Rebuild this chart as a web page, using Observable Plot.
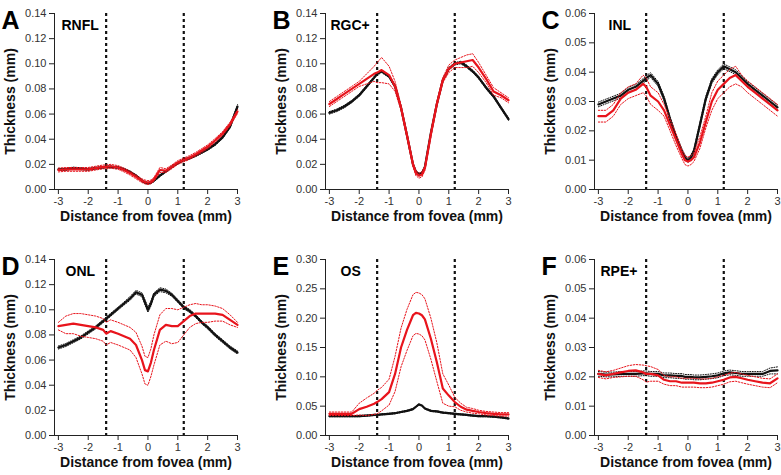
<!DOCTYPE html>
<html>
<head>
<meta charset="utf-8">
<script src="https://cdn.jsdelivr.net/npm/d3@7"></script>
<script src="https://cdn.jsdelivr.net/npm/@observablehq/plot@0.6"></script>
<style>
  html, body { margin: 0; padding: 0; background: #fff; }
  #chart { position: relative; width: 781px; height: 475px; overflow: hidden; font-family: "Liberation Sans", Arial, sans-serif; }
  #chart svg { position: absolute; }
</style>
</head>
<body>
<div id="chart"></div>
<script>
// ---- data (distance from fovea, mm) ----
const xs = [-3, -2.75, -2.5, -2.25, -2, -1.75, -1.5, -1.4, -1.25, -1, -0.8, -0.6, -0.4, -0.2, -0.1, 0, 0.1, 0.2, 0.4, 0.6, 0.8, 1, 1.2, 1.4, 1.6, 1.8, 2, 2.25, 2.5, 2.75, 3];
const xTicks = [-3, -2, -1, 0, 1, 2, 3];
const foveaLines = [-1.4, 1.2];
const ticks014 = [0, 0.02, 0.04, 0.06, 0.08, 0.10, 0.12, 0.14];
const ticks006 = [0, 0.01, 0.02, 0.03, 0.04, 0.05, 0.06];
const ticks030 = [0, 0.05, 0.10, 0.15, 0.20, 0.25, 0.30];
const panelLetters = ["A", "B", "C", "D", "E", "F"];
const layerNames = ["RNFL", "RGC+", "INL", "ONL", "OS", "RPE+"];

// RNFL
const blackA = [0.016, 0.016, 0.017, 0.0165, 0.016, 0.017, 0.0175, 0.018, 0.018, 0.0175, 0.016, 0.014, 0.011, 0.007, 0.0055, 0.005, 0.0055, 0.007, 0.011, 0.0145, 0.018, 0.021, 0.0235, 0.025, 0.027, 0.0295, 0.032, 0.036, 0.0415, 0.050, 0.066];
const blackSemA = [0.0008, 0.0008, 0.0008, 0.0008, 0.0008, 0.0008, 0.0008, 0.0008, 0.0008, 0.0008, 0.0008, 0.0008, 0.0008, 0.0008, 0.0008, 0.0008, 0.0008, 0.0008, 0.0008, 0.0008, 0.0008, 0.0008, 0.0008, 0.0008, 0.0008, 0.0008, 0.0008, 0.001, 0.001, 0.0012, 0.0015];
const redA = [0.0155, 0.016, 0.016, 0.016, 0.016, 0.017, 0.018, 0.018, 0.0185, 0.0175, 0.0155, 0.013, 0.010, 0.007, 0.006, 0.0055, 0.006, 0.008, 0.0155, 0.015, 0.018, 0.0215, 0.0235, 0.0255, 0.028, 0.031, 0.034, 0.039, 0.0445, 0.052, 0.062];
const redSemA = [0.0015, 0.0015, 0.0015, 0.0015, 0.0015, 0.0015, 0.0015, 0.0015, 0.0015, 0.0015, 0.0015, 0.0015, 0.0015, 0.0015, 0.0015, 0.0015, 0.0015, 0.0015, 0.002, 0.0015, 0.0015, 0.0015, 0.0015, 0.0015, 0.0015, 0.0015, 0.0015, 0.0015, 0.0015, 0.0015, 0.0015];
// RGC+
const blackB = [0.061, 0.063, 0.066, 0.070, 0.075, 0.082, 0.089, 0.092, 0.094, 0.090, 0.082, 0.065, 0.043, 0.020, 0.014, 0.012, 0.013, 0.018, 0.045, 0.068, 0.087, 0.096, 0.100, 0.101, 0.098, 0.094, 0.089, 0.081, 0.074, 0.065, 0.056];
const blackSemB = [0.001, 0.001, 0.001, 0.001, 0.001, 0.001, 0.001, 0.001, 0.001, 0.001, 0.001, 0.001, 0.001, 0.001, 0.001, 0.001, 0.001, 0.001, 0.001, 0.001, 0.001, 0.001, 0.001, 0.001, 0.001, 0.001, 0.001, 0.001, 0.001, 0.001, 0.001];
const redB = [0.068, 0.072, 0.076, 0.080, 0.084, 0.088, 0.092, 0.093, 0.095, 0.091, 0.082, 0.065, 0.043, 0.020, 0.013, 0.011, 0.012, 0.017, 0.044, 0.068, 0.087, 0.096, 0.100, 0.101, 0.102, 0.103, 0.097, 0.088, 0.078, 0.075, 0.071];
const redSemB = [0.002, 0.002, 0.002, 0.002, 0.002, 0.004, 0.006, 0.008, 0.010, 0.007, 0.004, 0.002, 0.002, 0.002, 0.002, 0.002, 0.002, 0.002, 0.002, 0.002, 0.002, 0.003, 0.003, 0.004, 0.005, 0.005, 0.004, 0.003, 0.003, 0.002, 0.002];
// INL
const blackC = [0.029, 0.030, 0.031, 0.032, 0.034, 0.035, 0.037, 0.038, 0.039, 0.036, 0.031, 0.024, 0.018, 0.013, 0.011, 0.010, 0.011, 0.013, 0.022, 0.031, 0.037, 0.040, 0.042, 0.041, 0.040, 0.038, 0.036, 0.034, 0.032, 0.030, 0.028];
const blackSemC = [0.0008, 0.0008, 0.0008, 0.0008, 0.0008, 0.0008, 0.0008, 0.0008, 0.0008, 0.0008, 0.0008, 0.0008, 0.0008, 0.0008, 0.0008, 0.0008, 0.0008, 0.0008, 0.0008, 0.0008, 0.0008, 0.0008, 0.0008, 0.0008, 0.0008, 0.0008, 0.0008, 0.0008, 0.0008, 0.0008, 0.0008];
const redC = [0.025, 0.025, 0.027, 0.031, 0.033, 0.034, 0.036, 0.035, 0.032, 0.030, 0.027, 0.022, 0.017, 0.012, 0.010, 0.0095, 0.010, 0.011, 0.016, 0.023, 0.030, 0.034, 0.036, 0.038, 0.039, 0.037, 0.035, 0.033, 0.031, 0.029, 0.027];
const redSemC = [0.002, 0.002, 0.002, 0.002, 0.002, 0.002, 0.003, 0.003, 0.003, 0.003, 0.002, 0.002, 0.002, 0.0015, 0.0015, 0.0015, 0.0015, 0.0015, 0.002, 0.002, 0.003, 0.003, 0.003, 0.003, 0.003, 0.002, 0.002, 0.002, 0.002, 0.002, 0.002];
// ONL
const blackD = [0.070, 0.072, 0.075, 0.078, 0.082, 0.086, 0.091, 0.093, 0.096, 0.101, 0.105, 0.109, 0.114, 0.112, 0.106, 0.100, 0.105, 0.112, 0.116, 0.115, 0.112, 0.107, 0.102, 0.099, 0.095, 0.090, 0.086, 0.080, 0.075, 0.070, 0.066];
const blackSemD = [0.0012, 0.0012, 0.0012, 0.0012, 0.0012, 0.0012, 0.0012, 0.0012, 0.0012, 0.0012, 0.0012, 0.0015, 0.0015, 0.0015, 0.002, 0.002, 0.002, 0.0015, 0.0015, 0.0015, 0.0012, 0.0012, 0.0012, 0.0012, 0.0012, 0.0012, 0.0012, 0.0012, 0.0012, 0.0012, 0.0012];
const redD = [0.087, 0.088, 0.089, 0.088, 0.087, 0.086, 0.084, 0.081, 0.083, 0.081, 0.079, 0.077, 0.072, 0.060, 0.052, 0.051, 0.058, 0.068, 0.084, 0.088, 0.087, 0.087, 0.091, 0.095, 0.097, 0.097, 0.097, 0.097, 0.096, 0.092, 0.088];
const redSemD = [0.003, 0.007, 0.008, 0.009, 0.009, 0.009, 0.009, 0.009, 0.009, 0.009, 0.009, 0.009, 0.010, 0.011, 0.011, 0.011, 0.011, 0.012, 0.012, 0.013, 0.014, 0.013, 0.011, 0.009, 0.008, 0.007, 0.007, 0.006, 0.005, 0.004, 0.002];
// OS
const blackE = [0.033, 0.033, 0.033, 0.033, 0.033, 0.034, 0.035, 0.035, 0.036, 0.037, 0.038, 0.040, 0.042, 0.045, 0.049, 0.053, 0.051, 0.046, 0.042, 0.041, 0.039, 0.038, 0.037, 0.036, 0.035, 0.034, 0.033, 0.033, 0.032, 0.031, 0.029];
const blackSemE = [0.001, 0.001, 0.001, 0.001, 0.001, 0.001, 0.001, 0.001, 0.001, 0.001, 0.001, 0.001, 0.001, 0.001, 0.001, 0.001, 0.001, 0.001, 0.001, 0.001, 0.001, 0.001, 0.001, 0.001, 0.001, 0.001, 0.001, 0.001, 0.001, 0.001, 0.001];
const redE = [0.037, 0.037, 0.037, 0.037, 0.045, 0.049, 0.054, 0.057, 0.062, 0.074, 0.105, 0.150, 0.180, 0.205, 0.209, 0.208, 0.205, 0.198, 0.165, 0.125, 0.080, 0.068, 0.057, 0.049, 0.044, 0.042, 0.040, 0.038, 0.037, 0.036, 0.036];
const redSemE = [0.003, 0.003, 0.003, 0.003, 0.010, 0.015, 0.018, 0.020, 0.020, 0.022, 0.030, 0.033, 0.035, 0.035, 0.035, 0.035, 0.035, 0.035, 0.035, 0.033, 0.025, 0.018, 0.008, 0.006, 0.004, 0.004, 0.003, 0.003, 0.003, 0.003, 0.003];
// RPE+
const blackF = [0.021, 0.0208, 0.0208, 0.021, 0.021, 0.021, 0.0212, 0.0212, 0.021, 0.021, 0.0205, 0.0205, 0.0203, 0.0203, 0.020, 0.020, 0.020, 0.0198, 0.0198, 0.020, 0.0202, 0.0205, 0.0212, 0.0215, 0.0213, 0.021, 0.021, 0.021, 0.021, 0.022, 0.0222];
const blackSemF = [0.0008, 0.0008, 0.0008, 0.0008, 0.0008, 0.0008, 0.0008, 0.0008, 0.0008, 0.0008, 0.0008, 0.0008, 0.0008, 0.0008, 0.0008, 0.0008, 0.0008, 0.0008, 0.0008, 0.0008, 0.0008, 0.0008, 0.0008, 0.0008, 0.0008, 0.0008, 0.0008, 0.0008, 0.0008, 0.001, 0.0012];
const redF = [0.021, 0.0205, 0.021, 0.0215, 0.022, 0.0222, 0.0215, 0.021, 0.021, 0.0205, 0.019, 0.0185, 0.0185, 0.018, 0.018, 0.018, 0.018, 0.018, 0.0178, 0.0178, 0.018, 0.0185, 0.019, 0.0198, 0.020, 0.0195, 0.019, 0.0185, 0.018, 0.0178, 0.0195];
const redSemF = [0.0012, 0.0012, 0.0012, 0.0015, 0.0018, 0.002, 0.0025, 0.0028, 0.0025, 0.002, 0.0015, 0.0015, 0.0015, 0.0015, 0.0015, 0.0015, 0.0015, 0.0015, 0.0015, 0.0015, 0.0015, 0.0015, 0.0015, 0.0015, 0.0015, 0.0015, 0.0015, 0.0015, 0.0015, 0.0015, 0.0015];

const series = [
  [blackA, blackSemA, redA, redSemA],
  [blackB, blackSemB, redB, redSemB],
  [blackC, blackSemC, redC, redSemC],
  [blackD, blackSemD, redD, redSemD],
  [blackE, blackSemE, redE, redSemE],
  [blackF, blackSemF, redF, redSemF]
];
const yTickSets = [ticks014, ticks014, ticks006, ticks014, ticks030, ticks006];

// ---- layout ----
const RED = "#e8141c";
const lefts = [0, 271, 540];
const tops = [0, 246];
const labelDx = [7, 5, 14, 11, 15, 6];
const fmt = d3.format(".2f");
const chart = document.getElementById("chart");

series.forEach(([blk, blkSem, red, redSem], i) => {
  const rows = xs.map((x, j) => ({
    x,
    b: blk[j], bHi: blk[j] + blkSem[j], bLo: blk[j] - blkSem[j],
    r: red[j], rHi: red[j] + redSem[j], rLo: red[j] - redSem[j]
  }));
  const yt = yTickSets[i];
  const yMax = yt[yt.length - 1];
  const svg = Plot.plot({
    width: 250,
    height: 229,
    marginLeft: 54,
    marginRight: 13,
    marginTop: 13,
    marginBottom: 40,
    style: {background: "transparent", overflow: "visible", fontFamily: "'Liberation Sans', Arial, sans-serif", color: "#222"},
    x: {domain: [-3.13, 3]},
    y: {domain: [0, yMax]},
    marks: [
      Plot.axisX({ticks: xTicks, tickSize: 5, tickPadding: 3, fontSize: 11, label: null, fill: "#333", tickFormat: d => String(d)}),
      Plot.axisY({ticks: yt, tickSize: 5, tickPadding: 3, fontSize: 11, label: null, tickFormat: fmt, fill: "#333"}),
      Plot.frame({anchor: "left", stroke: "#222"}),
      Plot.frame({anchor: "bottom", stroke: "#222"}),
      Plot.ruleX(foveaLines, {stroke: "#111", strokeWidth: 2.2, strokeDasharray: "3,3"}),
      Plot.line(rows, {x: "x", y: "bHi", stroke: "#111", strokeWidth: 1, strokeDasharray: "1,1.5"}),
      Plot.line(rows, {x: "x", y: "bLo", stroke: "#111", strokeWidth: 1, strokeDasharray: "1,1.5"}),
      Plot.line(rows, {x: "x", y: "b", stroke: "#111", strokeWidth: 2.2}),
      Plot.line(rows, {x: "x", y: "rHi", stroke: RED, strokeWidth: 1, strokeDasharray: "1.5,1.5"}),
      Plot.line(rows, {x: "x", y: "rLo", stroke: RED, strokeWidth: 1, strokeDasharray: "1.5,1.5"}),
      Plot.line(rows, {x: "x", y: "r", stroke: RED, strokeWidth: 2.2}),
      Plot.text(["Thickness (mm)"], {frameAnchor: "left", dx: -44, rotate: -90, textAnchor: "middle", fontSize: 14, fontWeight: "bold", fill: "#111"}),
      Plot.text(["Distance from fovea (mm)"], {frameAnchor: "bottom", dy: 31, textAnchor: "middle", fontSize: 14, fontWeight: "bold", fill: "#111"}),
      Plot.text([panelLetters[i]], {frameAnchor: "top-left", dx: -53, dy: -2, textAnchor: "start", fontSize: 25, fontWeight: "bold", fill: "#000"}),
      Plot.text([layerNames[i]], {frameAnchor: "top-left", dx: labelDx[i], dy: 7, textAnchor: "start", fontSize: 14, fontWeight: "bold", fill: "#000"})
    ]
  });
  svg.style.left = lefts[i % 3] + "px";
  svg.style.top = tops[Math.floor(i / 3)] + "px";
  chart.appendChild(svg);
});
</script>
</body>
</html>
